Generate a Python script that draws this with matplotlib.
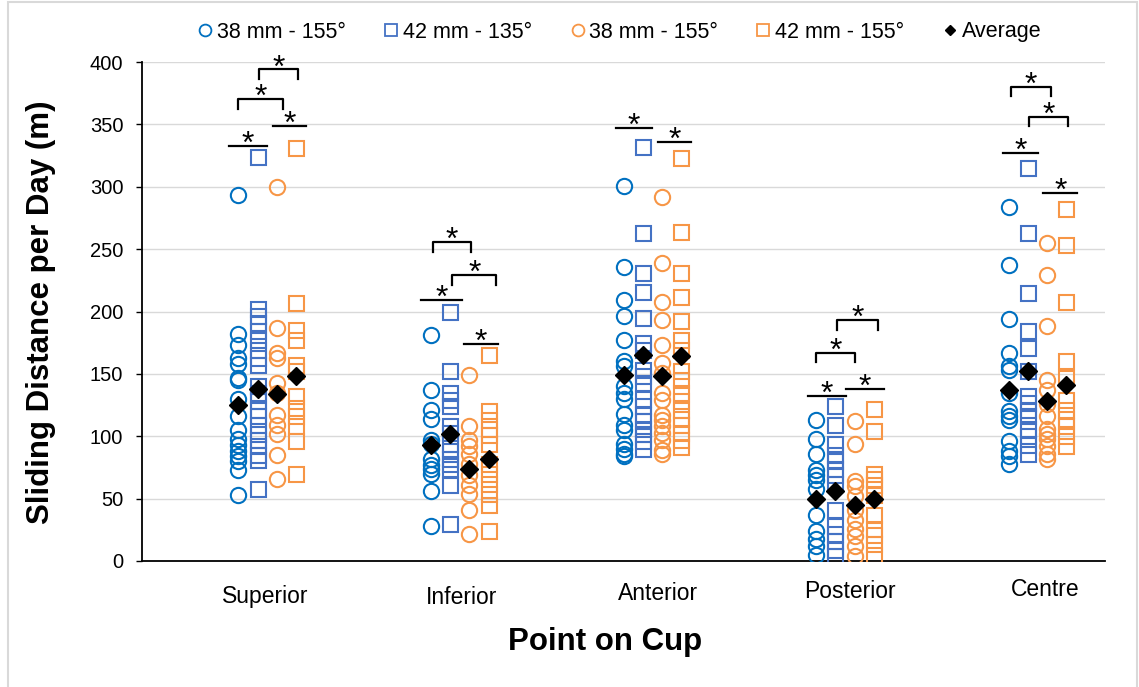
import numpy as np
import matplotlib.pyplot as plt
from matplotlib.lines import Line2D
from matplotlib.patches import Rectangle

plt.rcParams['font.family'] = ['Liberation Sans', 'DejaVu Sans']

# --- données ---
categories = ['Superior', 'Inferior', 'Anterior', 'Posterior', 'Centre']
series_labels = ['38 mm - 155°', '42 mm - 135°', '38 mm - 155°', '42 mm - 155°']

# 38 mm - 155° (cercles bleus)
blue_38 = [
    [293, 182, 173, 163, 158, 147, 145, 130, 116, 105, 98, 93, 88, 84, 80, 73, 53],
    [181, 137, 121, 114, 97, 94, 82, 77, 74, 70, 56, 28],
    [301, 236, 209, 196, 177, 160, 156, 140, 135, 130, 118, 109, 105, 94, 90, 86, 84],
    [113, 98, 86, 73, 69, 65, 58, 37, 24, 18, 12, 5],
    [284, 237, 194, 167, 156, 153, 135, 120, 116, 113, 96, 88, 84, 78],
]
# 42 mm - 135° (carrés bleus)
blue_42 = [
    [324, 202, 196, 191, 184, 177, 169, 163, 157, 140, 135, 128, 121, 116, 109, 102, 97, 92, 85, 81, 58],
    [200, 152, 135, 129, 124, 108, 103, 94, 88, 82, 78, 74, 61, 30],
    [332, 263, 231, 216, 195, 175, 169, 153, 148, 143, 130, 124, 117, 112, 106, 102, 96, 90],
    [124, 109, 94, 85, 80, 74, 69, 62, 41, 28, 22, 16, 9, 4],
    [315, 263, 215, 184, 171, 152, 132, 127, 121, 116, 106, 100, 93, 86],
]
# 38 mm - 155° (cercles orange)
orange_38 = [
    [300, 187, 167, 163, 143, 135, 117, 109, 102, 85, 66],
    [149, 108, 97, 92, 86, 78, 69, 61, 54, 41, 22],
    [292, 239, 208, 193, 173, 159, 151, 135, 129, 117, 113, 108, 103, 97, 89, 86],
    [112, 94, 64, 60, 52, 41, 33, 26, 20, 12, 4],
    [255, 229, 188, 145, 137, 126, 116, 106, 102, 98, 92, 86, 82],
]
# 42 mm - 155° (carrés orange)
orange_42 = [
    [331, 207, 185, 177, 157, 152, 132, 123, 116, 108, 96, 70],
    [165, 120, 113, 106, 101, 94, 78, 70, 62, 54, 45, 24],
    [323, 264, 231, 212, 192, 177, 169, 152, 145, 135, 128, 121, 114, 109, 103, 97, 91],
    [122, 104, 70, 66, 61, 53, 37, 26, 21, 14, 5],
    [282, 253, 208, 160, 147, 129, 121, 114, 108, 100, 92],
]
# moyennes (losanges noirs), une valeur par série
averages = [
    [125, 138, 134, 148],
    [93, 102, 74, 82],
    [149, 165, 148, 164],
    [50, 56, 45, 50],
    [137, 152, 128, 141],
]

# --- mise en forme ---
W, H = 1139, 687
def fx(px):
    return px / W
def fy(py):
    return 1 - py / H

fig = plt.figure(figsize=(W / 100, H / 100), dpi=100)
ax = fig.add_axes([fx(142), fy(561), fx(1105) - fx(142), fy(62) - fy(561)])

offsets = [-0.15, -0.05, 0.05, 0.15]
styles = [('o', '#0070C0', 11), ('s', '#4472C4', 10.8),
          ('o', '#F79646', 11), ('s', '#F79646', 10.8)]
series = [blue_38, blue_42, orange_38, orange_42]

for k, data in enumerate(series):
    mk, col, ms = styles[k]
    for i, vals in enumerate(data):
        x = np.full(len(vals), i + 1 + offsets[k])
        ax.plot(x, vals, ls='none', marker=mk, ms=ms, mfc='none', mec=col, mew=1.5, zorder=3)

for i, av in enumerate(averages):
    x = i + 1 + np.array(offsets)
    ax.plot(x, av, ls='none', marker='D', ms=9.2, color='black', zorder=4)

# barres de significativité (x0, x1, y, crochet)
sig = [
    (0.80, 1.00, 333, False), (1.03, 1.20, 349, False),
    (0.85, 1.08, 370, True), (0.96, 1.16, 394, True),
    (1.86, 2.06, 255.5, True), (1.96, 2.19, 229, True),
    (1.80, 2.01, 209, False), (2.02, 2.20, 174, False),
    (2.81, 3.00, 347, False), (3.03, 3.20, 336, False),
    (3.96, 4.17, 193, True), (3.85, 4.05, 167, True),
    (3.81, 4.005, 132.5, False), (4.005, 4.20, 138, False),
    (4.86, 5.07, 380, True), (4.955, 5.16, 356, True),
    (4.82, 5.00, 327, False), (5.03, 5.205, 295, False),
]
tick_len = 7.5
for x0, x1, y, br in sig:
    if br:
        ax.plot([x0, x0, x1, x1], [y - tick_len, y, y, y - tick_len],
                color='black', lw=1.6, clip_on=False, zorder=5)
    else:
        ax.plot([x0, x1], [y, y], color='black', lw=1.6, clip_on=False, zorder=5)
    ax.annotate('*', xy=((x0 + x1) / 2, y), xytext=(0, -5), textcoords='offset points',
                ha='center', va='baseline', fontsize=23, annotation_clip=False)

ax.set_xlim(0.35, 5.35)
ax.set_ylim(0, 400)
ax.set_yticks(np.arange(0, 401, 50))
ax.set_xticks([])
ax.grid(axis='y', color='#D9D9D9', lw=1)
ax.set_axisbelow(True)
for s in ['top', 'right']:
    ax.spines[s].set_visible(False)
for s in ['left', 'bottom']:
    ax.spines[s].set_color('black')
    ax.spines[s].set_linewidth(1.3)
ax.tick_params(axis='y', direction='out', length=4.5, width=1, pad=9, labelsize=14.5)

# étiquettes des catégories
label_px = [(265, 597), (462, 597), (658, 594), (850, 592), (1045, 590)]
for name, (px, py) in zip(categories, label_px):
    fig.text(fx(px), fy(py), name, ha='center', va='center', fontsize=16.5)

fig.text(fx(605), fy(642), 'Point on Cup', ha='center', va='center', fontsize=22.5, weight='bold')
fig.text(fx(41), fy(312), 'Sliding Distance per Day (m)', ha='center', va='center',
         rotation=90, fontsize=22.5, weight='bold')

# légende
handles = [Line2D([], [], ls='none', marker=mk, ms=8.5, mfc='none', mec=col, mew=1.3)
           for mk, col, _ in styles]
handles.append(Line2D([], [], ls='none', marker='D', ms=5.5, color='black'))
labels = series_labels + ['Average']
fig.legend(handles, labels, loc='center', bbox_to_anchor=(fx(619), fy(32)), ncol=5,
           frameon=False, fontsize=15.5, handlelength=0.8, handletextpad=0.15,
           columnspacing=1.7)

# cadre gris du graphique
fig.patches.append(Rectangle((fx(8), fy(700)), fx(1137) - fx(8), fy(2) - fy(700),
                             transform=fig.transFigure, fill=False, ec='#D9D9D9', lw=1.5))

fig.savefig('out.png', dpi=100)
